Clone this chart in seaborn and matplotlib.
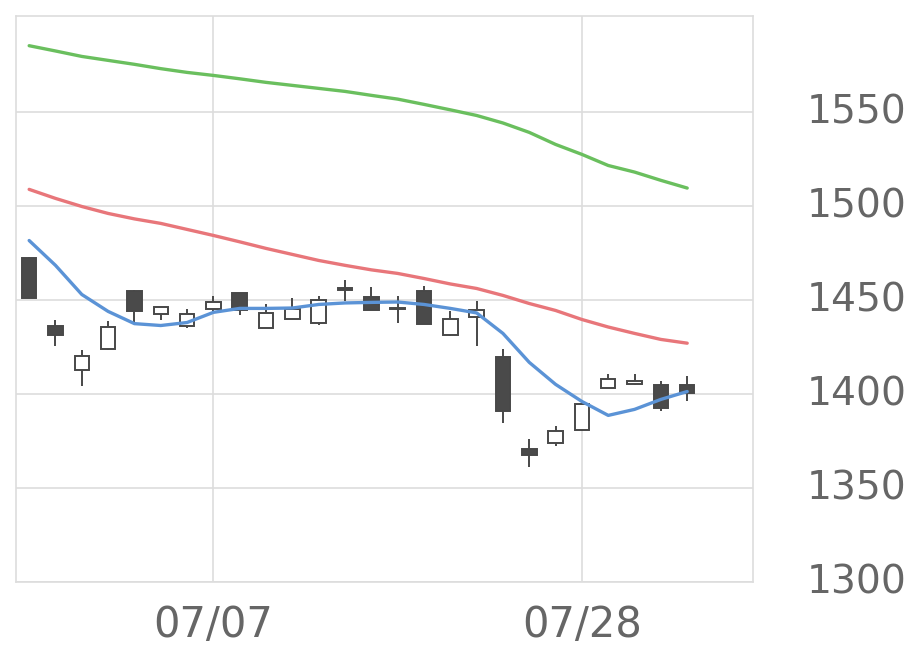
import matplotlib
matplotlib.use("Agg")
import matplotlib.pyplot as plt
import matplotlib.transforms as mtransforms
import seaborn as sns
import pandas as pd
import numpy as np

dates = ["06/26", "06/27", "06/30", "07/01", "07/02", "07/03", "07/04", "07/07",
         "07/08", "07/09", "07/10", "07/11", "07/14", "07/15", "07/16", "07/17",
         "07/18", "07/22", "07/23", "07/24", "07/25", "07/28", "07/29", "07/30",
         "07/31", "08/01"]
opens = [1472.4, 1436.4, 1412.5, 1423.7, 1455.0, 1442.7, 1436.4, 1445.3,
         1453.6, 1435.2, 1440.0, 1437.9, 1456.3, 1451.5, 1445.5, 1454.5,
         1431.6, 1440.9, 1419.6, 1370.9, 1374.0, 1381.0, 1403.3, 1405.1,
         1404.9, 1404.9]
closes = [1451.2, 1431.6, 1420.3, 1435.5, 1444.0, 1446.2, 1442.7, 1448.8,
          1444.4, 1443.0, 1445.3, 1450.1, 1455.1, 1444.9, 1445.2, 1437.0,
          1440.0, 1444.4, 1390.9, 1367.8, 1380.2, 1394.8, 1408.1, 1406.8,
          1392.4, 1400.6]
highs = [1472.6, 1439.5, 1423.5, 1438.6, 1455.2, 1446.4, 1445.3, 1451.9,
         1453.8, 1448.0, 1451.0, 1451.9, 1460.7, 1456.8, 1452.0, 1457.2,
         1443.9, 1449.2, 1424.0, 1376.2, 1383.2, 1395.0, 1410.4, 1410.7,
         1406.8, 1409.3]
lows = [1451.0, 1425.3, 1404.0, 1423.5, 1437.3, 1439.5, 1435.2, 1443.5,
        1441.8, 1435.0, 1440.0, 1436.8, 1449.7, 1444.8, 1437.9, 1437.0,
        1430.6, 1425.3, 1384.5, 1361.4, 1372.1, 1380.2, 1403.1, 1405.0,
        1390.9, 1396.2]
ma_short = [1481.6, 1468.4, 1452.9, 1443.9, 1437.4, 1436.4, 1438.0, 1443.4,
            1445.5, 1445.5, 1445.7, 1447.6, 1448.4, 1448.7, 1448.9, 1447.6,
            1445.5, 1443.1, 1432.2, 1416.8, 1405.1, 1396.0, 1388.6, 1391.8,
            1397.1, 1401.3]
ma_mid = [1508.8, 1504.0, 1499.7, 1496.0, 1493.1, 1490.7, 1487.5, 1484.3,
          1480.9, 1477.4, 1474.2, 1471.0, 1468.4, 1466.0, 1464.1, 1461.4,
          1458.5, 1456.1, 1452.4, 1448.1, 1444.4, 1439.6, 1435.6, 1432.2,
          1429.0, 1427.0]
ma_long = [1585.2, 1582.4, 1579.5, 1577.4, 1575.3, 1573.0, 1571.0, 1569.4,
           1567.6, 1565.7, 1564.1, 1562.5, 1560.9, 1558.8, 1556.8, 1554.0,
           1551.1, 1548.1, 1544.1, 1539.1, 1532.7, 1527.4, 1521.5, 1518.0,
           1513.6, 1509.5]
tick_dates = ["07/07", "07/28"]
y_ticks = [1300, 1350, 1400, 1450, 1500, 1550]

df = pd.DataFrame({"date": dates, "open": opens, "close": closes,
                   "high": highs, "low": lows,
                   "ma_short": ma_short, "ma_mid": ma_mid, "ma_long": ma_long})
df["pos"] = np.arange(len(df))

sns.set_style("white")
fig = plt.figure(figsize=(9.2, 6.69), dpi=100)
ax = fig.add_axes([16/920, 1-582/669, (753-16)/920, (582-16)/669])

dark = "#4a4a4a"
edge = "#484848"
ax.vlines(df["pos"], df["low"], df["high"], color=edge, lw=1.4, zorder=2)
bottoms = np.minimum(df["open"], df["close"])
heights = np.maximum(np.abs(df["close"] - df["open"]), 0.4)
faces = [dark if c < o else "white" for o, c in zip(df["open"], df["close"])]
ax.bar(df["pos"], heights, bottom=bottoms, width=0.55, color=faces,
       edgecolor=edge, linewidth=1.4, zorder=3)

sns.lineplot(data=df, x="pos", y="ma_long", color="#6abf5e", lw=2.4, ax=ax, zorder=4)
sns.lineplot(data=df, x="pos", y="ma_mid", color="#e8767a", lw=2.4, ax=ax, zorder=4)
sns.lineplot(data=df, x="pos", y="ma_short", color="#5b93d6", lw=2.4, ax=ax, zorder=5)

ax.set_xlim(-0.5, 27.5)
ax.set_ylim(1300, 1601)
ax.set_xticks([dates.index(d) for d in tick_dates])
ax.set_xticklabels(tick_dates)
ax.set_yticks(y_ticks)
ax.set_yticklabels([str(v) for v in y_ticks])
ax.yaxis.tick_right()
ax.set_xlabel("")
ax.set_ylabel("")
ax.grid(True, color="#dddddd", lw=1.2, zorder=0)
ax.set_axisbelow(True)
for s in ax.spines.values():
    s.set_visible(True)
    s.set_color("#dddddd")
    s.set_linewidth(1.2)
ax.tick_params(axis="y", length=0, pad=39, labelsize=28.3, labelcolor="#666666")
ax.tick_params(axis="x", length=0, pad=16, labelsize=30, labelcolor="#666666")

shift = mtransforms.ScaledTranslation(0, 3/100, fig.dpi_scale_trans)
for lab in ax.get_yticklabels():
    lab.set_transform(lab.get_transform() + shift)

fig.savefig("out.png", dpi=100)
